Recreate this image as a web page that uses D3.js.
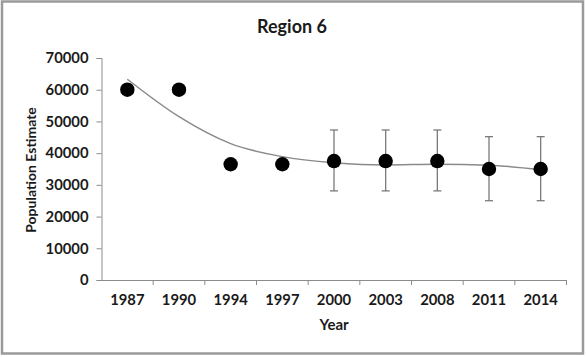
<!DOCTYPE html>
<html><head><meta charset="utf-8">
<script src="https://cdn.jsdelivr.net/npm/d3@7"></script>
<style>body{margin:0;background:#fff}svg{display:block}text{font-family:Lato,"Open Sans",sans-serif;font-weight:bold;fill:#1a1a1a}</style>
</head><body>
<svg id="c" width="586" height="357"></svg>
<script>
const years = ["1987","1990","1994","1997","2000","2003","2008","2011","2014"];
const estimates = [60000,60000,36500,36500,37500,37500,37500,35000,35000];
const errUpper = [null,null,null,null,47300,47300,47300,45200,45200];
const errLower = [null,null,null,null,28100,28100,28100,25000,25000];
const trend = [63300,51500,43000,38900,37000,36300,36500,36200,34800];
const yTicks = [0,10000,20000,30000,40000,50000,60000,70000];

const svg = d3.select("#c");
svg.append("rect").attr("x",2).attr("y",1.5).attr("width",581).attr("height",352)
  .attr("fill","#fff").attr("stroke","#9a9a9a").attr("stroke-width",2.5);

const x = d3.scaleBand().domain(years).range([101.5,566.5]).padding(0);
const y = d3.scaleLinear().domain([0,70000]).range([280,58]);
const axisColor = "#8c8c8c";

// y axis
const ya = svg.append("g").attr("transform","translate(101.5,0)")
  .call(d3.axisLeft(y).tickValues(yTicks).tickSize(5).tickPadding(8).tickFormat(d3.format("d")));
ya.select(".domain").attr("stroke",axisColor);
ya.selectAll(".tick line").attr("stroke",axisColor);
ya.selectAll("text").attr("font-size",14.8).attr("font-family","Lato").attr("font-weight","bold").attr("fill","#1a1a1a");

// x axis
const xa = svg.append("g").attr("transform","translate(0,280)")
  .call(d3.axisBottom(x).tickSize(0).tickPadding(14));
xa.select(".domain").attr("stroke",axisColor);
xa.selectAll("text").attr("font-size",14.8).attr("font-family","Lato").attr("font-weight","bold").attr("fill","#1a1a1a");
const bounds = years.map(d=>x(d)).concat([x.range()[1]]);
svg.append("g").selectAll("line").data(bounds.slice(1)).join("line")
  .attr("x1",d=>d).attr("x2",d=>d).attr("y1",280).attr("y2",285).attr("stroke",axisColor);

const cx = d => x(d) + x.bandwidth()/2;

// trend line
svg.append("path").datum(trend.map((v,i)=>[cx(years[i]),y(v)]))
  .attr("d",d3.line().curve(d3.curveMonotoneX))
  .attr("fill","none").attr("stroke","#8a8a8a").attr("stroke-width",1.5);

// error bars
const eb = years.map((d,i)=>({d,u:errUpper[i],l:errLower[i]})).filter(e=>e.u!==null);
const g = svg.append("g").attr("stroke","#7a7a7a").attr("stroke-width",1.3);
g.selectAll(".v").data(eb).join("line").attr("x1",e=>cx(e.d)).attr("x2",e=>cx(e.d)).attr("y1",e=>y(e.u)).attr("y2",e=>y(e.l));
g.selectAll(".t").data(eb).join("line").attr("x1",e=>cx(e.d)-4).attr("x2",e=>cx(e.d)+4).attr("y1",e=>y(e.u)).attr("y2",e=>y(e.u));
g.selectAll(".b").data(eb).join("line").attr("x1",e=>cx(e.d)-4).attr("x2",e=>cx(e.d)+4).attr("y1",e=>y(e.l)).attr("y2",e=>y(e.l));

// dots
svg.append("g").selectAll("circle").data(estimates).join("circle")
  .attr("cx",(v,i)=>cx(years[i])).attr("cy",v=>y(v)).attr("r",7.2).attr("fill","#000");

// titles
svg.append("text").attr("x",292).attr("y",33).attr("text-anchor","middle").attr("font-size",18).text("Region 6");
svg.append("text").attr("x",334).attr("y",330).attr("text-anchor","middle").attr("font-size",15).text("Year");
svg.append("text").attr("transform","translate(36,170) rotate(-90)").attr("text-anchor","middle").attr("font-size",14).text("Population Estimate");
</script>
</body></html>
